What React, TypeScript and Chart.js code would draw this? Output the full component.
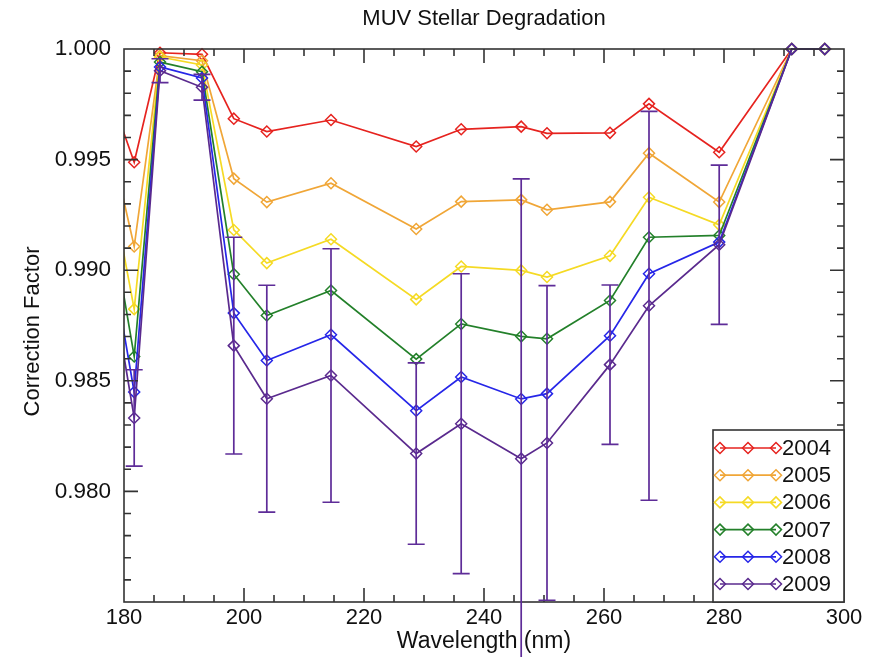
import React, { useEffect, useRef } from "react";
import { Chart, registerables } from "chart.js";

Chart.register(...registerables);

const FONT = "'Liberation Sans', Arial, Helvetica, sans-serif";
const TEXT_COLOR = "#111111";
const AXIS_COLOR = "#333333";

const chartTitle = "MUV Stellar Degradation";
const xTitle = "Wavelength (nm)";
const yTitle = "Correction Factor";

// Wavelength bins (nm); the first bin lies just below the plotted range.
const wavelengths = [177, 181.7, 186, 193, 198.3, 203.8, 214.5, 228.7, 236.2, 246.2, 250.5, 261, 267.5, 279.2, 291.3, 296.8];

const years = ["2004", "2005", "2006", "2007", "2008", "2009"];

const corr2004 = [0.9985, 0.99488, 0.99983, 0.99976, 0.99685, 0.99627, 0.99679, 0.99559, 0.99637, 0.99649, 0.99619, 0.99621, 0.99752, 0.99533, 1.0, 1.0];
const corr2005 = [0.99668, 0.99107, 0.9997, 0.99947, 0.99414, 0.99308, 0.99393, 0.99186, 0.9931, 0.99318, 0.99273, 0.99309, 0.99529, 0.99308, 1.0, 1.0];
const corr2006 = [0.99504, 0.98824, 0.99964, 0.99928, 0.99182, 0.99032, 0.9914, 0.98868, 0.99017, 0.98999, 0.98969, 0.99065, 0.9933, 0.99205, 1.0, 1.0];
const corr2007 = [0.99359, 0.9861, 0.99941, 0.99897, 0.98982, 0.98795, 0.98908, 0.98598, 0.98757, 0.98701, 0.9869, 0.98863, 0.99149, 0.99157, 1.0, 1.0];
const corr2008 = [0.9919, 0.98449, 0.99919, 0.99869, 0.98806, 0.98592, 0.98708, 0.98365, 0.98517, 0.98418, 0.98442, 0.98704, 0.98984, 0.99127, 1.0, 1.0];
const corr2009 = [0.99101, 0.98332, 0.99902, 0.99827, 0.98659, 0.98419, 0.98524, 0.98171, 0.98306, 0.98148, 0.98219, 0.98573, 0.98839, 0.99115, 1.0, 1.0];

// One-sigma uncertainty of the 2009 correction.
const err2009 = [0, 0.00218, 0.00054, 0.00058, 0.0049, 0.00513, 0.00573, 0.0041, 0.00678, 0.01265, 0.00711, 0.0036, 0.00879, 0.0036, 0, 0];

const seriesValues = [corr2004, corr2005, corr2006, corr2007, corr2008, corr2009];
const lineColors = ["#e6231f", "#f0a637", "#f5da24", "#23802a", "#2626e8", "#5a2a8e"];
const ERR_COLOR = "#5e2c98";

const X_MIN = 180;
const X_MAX = 300;
const X_MAJOR = 20;
const X_MINOR = 5;
const Y_MIN = 0.975;
const Y_MAX = 1.0;
const Y_MAJOR = 0.005;
const Y_MINOR = 0.001;

const MAJOR_LEN = 14;
const MINOR_LEN = 7;
const MARK_R = 5.5;

// Box around the plot with inward ticks on all four sides.
const frameTicks = {
  id: "frameTicks",
  afterDatasetsDraw(chart: any) {
    const { ctx, chartArea: a, scales } = chart;
    const xs = scales.x;
    const ys = scales.y;
    ctx.save();
    ctx.strokeStyle = AXIS_COLOR;
    ctx.lineWidth = 1.6;
    ctx.strokeRect(a.left, a.top, a.right - a.left, a.bottom - a.top);
    ctx.beginPath();
    const nx = Math.round((X_MAX - X_MIN) / X_MINOR);
    const xEvery = Math.round(X_MAJOR / X_MINOR);
    for (let i = 1; i < nx; i++) {
      const px = xs.getPixelForValue(X_MIN + i * X_MINOR);
      const len = i % xEvery === 0 ? MAJOR_LEN : MINOR_LEN;
      ctx.moveTo(px, a.bottom);
      ctx.lineTo(px, a.bottom - len);
      ctx.moveTo(px, a.top);
      ctx.lineTo(px, a.top + len);
    }
    const ny = Math.round((Y_MAX - Y_MIN) / Y_MINOR);
    const yEvery = Math.round(Y_MAJOR / Y_MINOR);
    for (let i = 1; i < ny; i++) {
      const py = ys.getPixelForValue(Y_MIN + i * Y_MINOR);
      const len = i % yEvery === 0 ? MAJOR_LEN : MINOR_LEN;
      ctx.moveTo(a.left, py);
      ctx.lineTo(a.left + len, py);
      ctx.moveTo(a.right, py);
      ctx.lineTo(a.right - len, py);
    }
    ctx.stroke();
    ctx.restore();
  },
};

function diamond(ctx: CanvasRenderingContext2D, x: number, y: number, r: number) {
  ctx.beginPath();
  ctx.moveTo(x - r, y);
  ctx.lineTo(x, y - r);
  ctx.lineTo(x + r, y);
  ctx.lineTo(x, y + r);
  ctx.closePath();
  ctx.stroke();
}

// Legend in the lower-right corner: a short line with three markers per year.
const legendBox = {
  id: "legendBox",
  afterDatasetsDraw(chart: any) {
    const { ctx, chartArea: a } = chart;
    const sets = chart.data.datasets;
    const boxW = 131;
    const rowH = 27.2;
    const boxH = 172;
    const left = a.right - boxW;
    const top = a.bottom - boxH;
    ctx.save();
    ctx.fillStyle = "#ffffff";
    ctx.fillRect(left, top, boxW, boxH);
    ctx.strokeStyle = AXIS_COLOR;
    ctx.lineWidth = 1.6;
    ctx.strokeRect(left, top, boxW, boxH);
    ctx.font = `22px ${FONT}`;
    ctx.textBaseline = "middle";
    ctx.textAlign = "left";
    sets.forEach((ds: any, k: number) => {
      const cy = top + 18 + k * rowH;
      const x0 = left + 7;
      const x1 = left + 63;
      ctx.strokeStyle = ds.borderColor;
      ctx.lineWidth = 1.7;
      ctx.beginPath();
      ctx.moveTo(x0, cy);
      ctx.lineTo(x1, cy);
      ctx.stroke();
      ctx.lineWidth = 1.5;
      [x0, (x0 + x1) / 2, x1].forEach((mx) => diamond(ctx, mx, cy, MARK_R));
      ctx.fillStyle = TEXT_COLOR;
      ctx.fillText(ds.label, x1 + 6, cy + 1);
    });
    ctx.restore();
  },
};

// Chart title over the plot and the rotated y-axis title.
const titleText = {
  id: "titleText",
  afterDraw(chart: any) {
    const { ctx, chartArea: a } = chart;
    ctx.save();
    ctx.font = `22px ${FONT}`;
    ctx.fillStyle = TEXT_COLOR;
    ctx.textAlign = "center";
    ctx.textBaseline = "middle";
    ctx.fillText(chartTitle, (a.left + a.right) / 2, 19);
    ctx.translate(33, (a.top + a.bottom) / 2 + 6);
    ctx.rotate(-Math.PI / 2);
    ctx.font = `22px ${FONT}`;
    ctx.fillText(yTitle, 0, 0);
    ctx.restore();
  },
};

// Vertical uncertainty bars on the 2009 series; they are not clipped.
const errorBars = {
  id: "errorBars",
  afterDraw(chart: any) {
    const { ctx, scales } = chart;
    const xs = scales.x;
    const ys = scales.y;
    ctx.save();
    ctx.strokeStyle = ERR_COLOR;
    ctx.lineWidth = 1.7;
    ctx.beginPath();
    wavelengths.forEach((w, i) => {
      const e = err2009[i];
      if (!e || w < X_MIN || w > X_MAX) return;
      const px = xs.getPixelForValue(w);
      const top = ys.getPixelForValue(corr2009[i] + e);
      const bot = ys.getPixelForValue(corr2009[i] - e);
      ctx.moveTo(px, top);
      ctx.lineTo(px, bot);
      ctx.moveTo(px - 8.5, top);
      ctx.lineTo(px + 8.5, top);
      ctx.moveTo(px - 8.5, bot);
      ctx.lineTo(px + 8.5, bot);
    });
    ctx.stroke();
    ctx.restore();
  },
};

export default function App() {
  const canvasRef = useRef<HTMLCanvasElement | null>(null);

  useEffect(() => {
    const canvas = canvasRef.current;
    if (!canvas) return;
    const chart = new Chart(canvas, {
      type: "line",
      data: {
        datasets: years.map((yr, k) => ({
          label: yr,
          data: wavelengths.map((w, i) => ({ x: w, y: seriesValues[k][i] })),
          borderColor: lineColors[k],
          backgroundColor: "rgba(0,0,0,0)",
          borderWidth: 1.7,
          pointStyle: "rectRot",
          pointRadius: MARK_R,
          pointBorderWidth: 1.5,
          pointBorderColor: lineColors[k],
          pointBackgroundColor: "rgba(0,0,0,0)",
          tension: 0,
          fill: false,
          clip: { left: 0, top: 9, right: 9, bottom: 0 },
          order: years.length - k,
        })),
      },
      options: {
        responsive: false,
        animation: false,
        devicePixelRatio: 1,
        events: [],
        layout: { padding: { top: 49, right: 29, left: 0, bottom: 0 } },
        plugins: {
          legend: { display: false },
          tooltip: { enabled: false },
          title: { display: false },
        },
        scales: {
          x: {
            type: "linear",
            position: "bottom",
            min: X_MIN,
            max: X_MAX,
            afterFit: (s: any) => {
              s.height = 55;
            },
            grid: { display: false, drawTicks: false },
            border: { display: false },
            ticks: {
              stepSize: X_MAJOR,
              autoSkip: false,
              maxRotation: 0,
              padding: 3,
              color: TEXT_COLOR,
              font: { family: FONT, size: 22 },
            },
            title: {
              display: true,
              text: xTitle,
              color: TEXT_COLOR,
              font: { family: FONT, size: 23 },
              padding: { top: 0, bottom: 2 },
            },
          },
          y: {
            type: "linear",
            position: "left",
            min: Y_MIN,
            max: Y_MAX,
            afterFit: (s: any) => {
              s.width = 124;
            },
            grid: { display: false, drawTicks: false },
            border: { display: false },
            ticks: {
              stepSize: Y_MAJOR,
              autoSkip: false,
              padding: 13,
              color: TEXT_COLOR,
              font: { family: FONT, size: 22.5 },
              callback: (v: any) => (Number(v) < Y_MIN + Y_MAJOR / 2 ? "" : Number(v).toFixed(3)),
            },
            title: { display: false },
          },
        },
      } as any,
      plugins: [frameTicks, legendBox, titleText, errorBars],
    });
    return () => chart.destroy();
  }, []);

  return (
    <div style={{ position: "absolute", left: 0, top: 0, width: 873, height: 657, background: "#ffffff" }}>
      <canvas ref={canvasRef} width={873} height={657} style={{ display: "block" }} />
    </div>
  );
}
